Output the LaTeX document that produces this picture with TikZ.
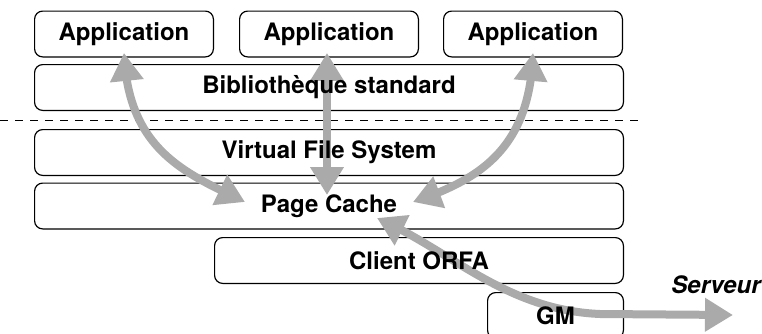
\documentclass[tikz,border=0pt]{standalone}
\usepackage{fontspec}
\setmainfont{TeX Gyre Heros}
\usepackage{tikz}
\usetikzlibrary{arrows.meta,bending}
\definecolor{flowgray}{RGB}{170,170,170}
\pgfdeclarelayer{frames}
\pgfdeclarelayer{flows}
\pgfsetlayers{frames,flows,main}

\begin{document}
\begin{tikzpicture}[
    x=0.5pt, y=-0.5pt,
    font=\fontsize{12}{14}\selectfont\bfseries,
    layer/.style={rectangle, minimum height=22.5pt, inner sep=0pt},
    frame/.style={rounded corners=4pt, draw=black, line width=0.6pt},
    flow/.style={{Triangle[length=14pt,width=16pt]}-{Triangle[length=14pt,width=16pt]}, line width=4pt, draw=flowgray}
    ]
    \useasboundingbox (0,0) rectangle (762,333);

    \node[layer, minimum width=89pt] (app1) at (124,34) {Application};
    \node[layer, minimum width=89pt] (app2) at (329,34) {Application};
    \node[layer, minimum width=89pt] (app3) at (533,34) {Application};
    \node[layer, minimum width=294pt] (lib) at (329,87.5) {Biblioth\`eque standard};
    \node[layer, minimum width=294pt] (vfs) at (329,152.5) {Virtual File System};
    \node[layer, minimum width=294pt] (cache) at (329,206) {Page Cache};
    \node[layer, minimum width=204pt] (orfa) at (419,260.5) {Client ORFA};
    \node[layer, minimum width=67.5pt] (gm) at (555.5,315.5) {GM};
    \node[font=\fontsize{12}{14}\selectfont\bfseries\itshape] (srvlabel) at (716,285) {Serveur};

    % boxes under the flows, text on top
    \begin{pgfonlayer}{frames}
        \foreach \lay in {app1,app2,app3,lib,vfs,cache,orfa,gm}
            \draw[frame] (\lay.south west) rectangle (\lay.north east);
        \draw[dash pattern=on 4pt off 3.5pt, line width=0.5pt] (0,120) -- (638,120);
    \end{pgfonlayer}

    % where the flows meet the page cache
    \coordinate (hitL) at (245,202);
    \coordinate (hitM) at (327,195);
    \coordinate (hitR) at (413,202);
    \coordinate (hitO) at (377,218);
    \coordinate (srv) at (733,315);

    \begin{pgfonlayer}{flows}
        \draw[flow] ([yshift=2pt]app1.south) .. controls (128,150) and (185,173) .. (hitL);
        \draw[flow] ([yshift=2pt]app2.south -| hitM) -- (hitM);
        \draw[flow] ([yshift=2pt]app3.south) .. controls (530,150) and (478,180) .. (hitR);
        \draw[flow] (hitO) .. controls (450,250) and (505,310) .. (600,314) -- (srv);
    \end{pgfonlayer}
\end{tikzpicture}
\end{document}
